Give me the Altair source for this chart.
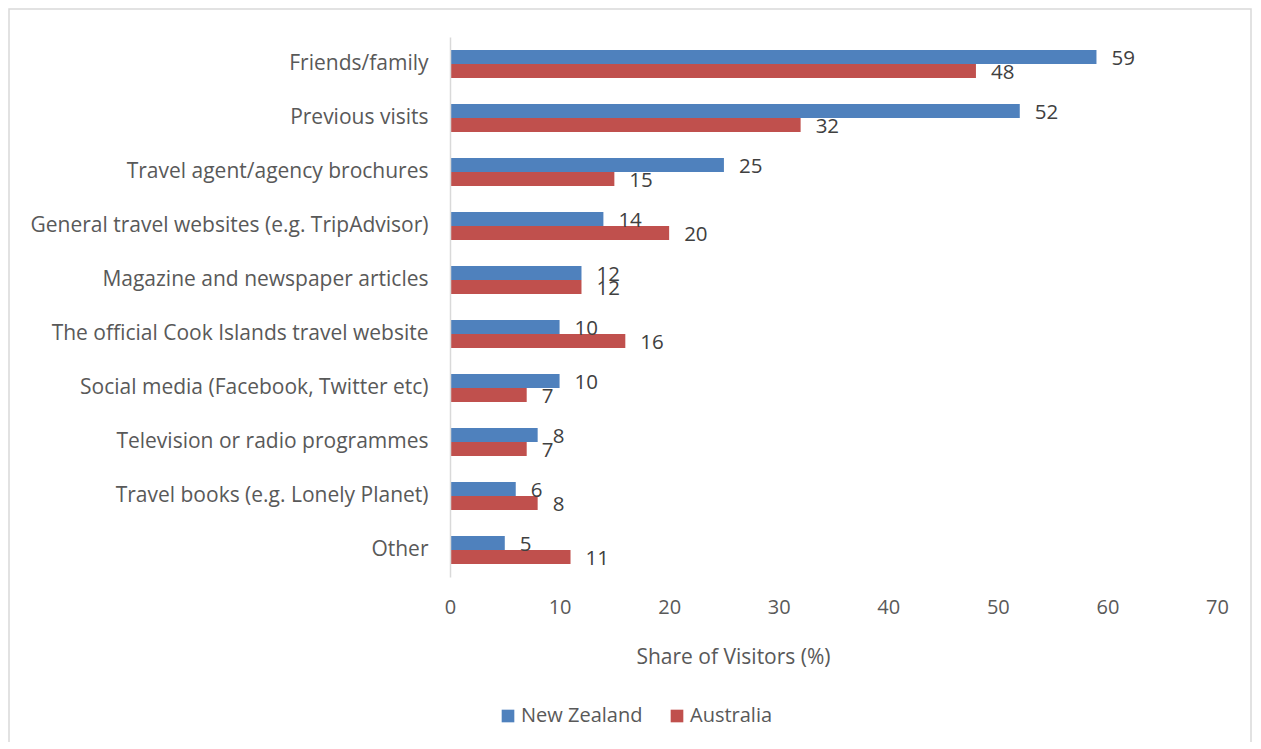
import altair as alt
import pandas as pd

categories = [
    "Friends/family",
    "Previous visits",
    "Travel agent/agency brochures",
    "General travel websites (e.g. TripAdvisor)",
    "Magazine and newspaper articles",
    "The official Cook Islands travel website",
    "Social media (Facebook, Twitter etc)",
    "Television or radio programmes",
    "Travel books (e.g. Lonely Planet)",
    "Other",
]
new_zealand = [59, 52, 25, 14, 12, 10, 10, 8, 6, 5]
australia = [48, 32, 15, 20, 12, 16, 7, 7, 8, 11]
series = ["New Zealand", "Australia"]
colors = ["#4F81BD", "#C0504D"]

rows = []
for c, nz, au in zip(categories, new_zealand, australia):
    rows.append({"category": c, "series": series[0], "value": nz})
    rows.append({"category": c, "series": series[1], "value": au})
df = pd.DataFrame(rows)

FONT = "Open Sans"
TXT = "#595959"

y_enc = alt.Y(
    "category:N",
    sort=categories,
    scale=alt.Scale(paddingInner=0.48, paddingOuter=0.24),
    axis=alt.Axis(
        title=None, ticks=False, labelPadding=22, labelFontSize=21,
        labelFont=FONT, labelColor=TXT, domainColor="#d9d9d9", domainWidth=1.5,
        labelLimit=500, zindex=1,
    ),
)
x_enc = alt.X(
    "value:Q",
    scale=alt.Scale(domain=[0, 70], nice=False),
    axis=alt.Axis(
        title="Share of Visitors (%)", values=[0, 10, 20, 30, 40, 50, 60, 70],
        grid=False, domain=False, ticks=False, labelPadding=20, labelFlush=False,
        labelFontSize=20, labelFont=FONT, labelColor=TXT,
        titleFontSize=21, titleFont=FONT, titleColor=TXT, titleFontWeight="normal",
        titlePadding=29, titleX=283, titleAlign="center", zindex=1,
    ),
)
yoff = alt.YOffset("series:N", sort=series)
color_enc = alt.Color(
    "series:N", sort=series,
    scale=alt.Scale(domain=series, range=colors),
    legend=alt.Legend(
        title=None, orient="none", legendX=48, legendY=669, direction="horizontal",
        symbolType="square", symbolSize=160, symbolStrokeWidth=0,
        labelFontSize=20, labelFont=FONT, labelColor=TXT, columnPadding=24,
        labelOffset=3,
    ),
)

border = alt.Chart(pd.DataFrame({"a": [0]})).mark_rect(
    filled=False, stroke="#d9d9d9", strokeWidth=1.5
).encode(
    x=alt.value(-441), x2=alt.value(801), y=alt.value(-28), y2=alt.value(740)
)

bars = alt.Chart(df).mark_bar().encode(
    y=y_enc, x=x_enc, yOffset=yoff, color=color_enc
)
labels = alt.Chart(df).mark_text(
    align="left", baseline="middle", dx=15, dy=2, fontSize=20.5, font=FONT, color="#404040"
).encode(
    y=alt.Y("category:N", sort=categories), x="value:Q", yOffset=yoff, text="value:Q"
)

chart = alt.layer(border, bars, labels).properties(
    width=767, height=540,
    background="white",
    padding={"left": 442, "top": 29, "right": 36, "bottom": 165},
    autosize=alt.AutoSizeParams(type="none"),
).configure_view(strokeWidth=0, stroke="transparent")

chart.save("out.html", embed_options={"renderer": "svg", "actions": False})
